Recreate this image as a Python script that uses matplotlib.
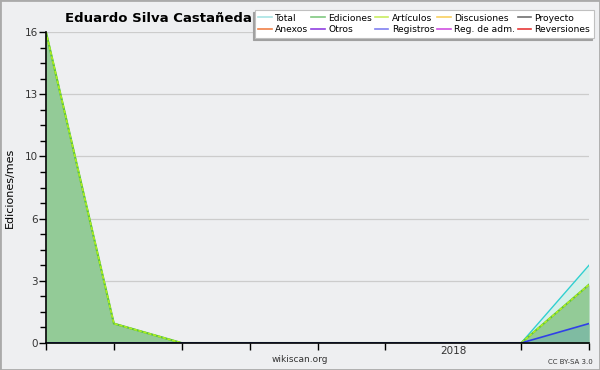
import matplotlib
matplotlib.use("Agg")
import matplotlib.pyplot as plt
from matplotlib.lines import Line2D
from matplotlib.ticker import AutoMinorLocator, FixedLocator

# monthly points, last column is the most recent month
months = [0, 1, 2, 3, 4, 5, 6, 7, 8]
total = [16, 1, 0, 0, 0, 0, 0, 0, 4]
ediciones = [16, 1, 0, 0, 0, 0, 0, 0, 3]
articulos = [16, 1, 0, 0, 0, 0, 0, 0, 3]
registros = [0, 0, 0, 0, 0, 0, 0, 0, 1]
year_pos = [6]
year_labels = ["2018"]
y_ticks = [0, 3.2, 6.4, 9.6, 12.8, 16]
y_labels = ["0", "3", "6", "10", "13", "16"]

legend_names = ["Total", "Ediciones", "Artículos", "Discusiones", "Proyecto",
                "Anexos", "Otros", "Registros", "Reg. de adm.", "Reversiones"]
legend_colors = ["#a8e4e4", "#80c880", "#c8ec60", "#f8d060", "#707070",
                 "#f08048", "#9040e0", "#8080f0", "#d050e0", "#e83838"]

bg = "#eeeff1"
fig = plt.figure(figsize=(6, 3.7), dpi=100, facecolor=bg)
ax = fig.add_axes([46 / 600, 27 / 370, 543 / 600, 311 / 370], facecolor=bg)

# filled areas
ax.fill_between(months, total, color="#d6efe8", lw=0)
ax.fill_between(months, ediciones, color="#93cb97", lw=0)
ax.fill_between(months, registros, color="#7fbba2", lw=0)

ax.plot(months, total, color="#30d0d0", lw=1)
ax.plot(months, ediciones, color="#60c040", lw=1.5)
ax.plot(months, articulos, color="#b0f020", lw=1.2, ls=(0, (2, 1)))
ax.plot(months, registros, color="#3040e8", lw=1.2)

ax.set_xlim(0, 8)
ax.set_ylim(0, 16)
ax.yaxis.set_major_locator(FixedLocator(y_ticks))
ax.set_yticklabels(y_labels)
ax.yaxis.set_minor_locator(AutoMinorLocator(4))
ax.set_xticks(year_pos)
ax.set_xticklabels(year_labels)
ax.xaxis.set_minor_locator(FixedLocator([m for m in months if m not in year_pos]))
ax.tick_params(axis="x", which="major", length=0, pad=2, labelsize=7.5, colors="#333333")
ax.tick_params(axis="x", which="minor", length=5, width=1, color="black")
ax.tick_params(axis="y", which="major", length=5, width=1, pad=1, labelsize=7.5,
               colors="#333333")
ax.tick_params(axis="y", which="minor", length=4, width=1)
ax.tick_params(axis="y", which="both", color="black")
ax.grid(axis="y", color="#cccccc", lw=0.9)
ax.set_axisbelow(True)
for s in ["top", "right"]:
    ax.spines[s].set_visible(False)
for s in ["left", "bottom"]:
    ax.spines[s].set_linewidth(1.2)
    ax.spines[s].set_zorder(5)

ax.set_ylabel("Ediciones/mes", fontsize=8)
ax.yaxis.set_label_coords(-0.058, 0.5)

fig.text(158 / 600, 1 - 18 / 370, "Eduardo Silva Castañeda", ha="center", va="center",
         fontsize=9.5, fontweight="bold")
fig.text(300 / 600, 1 - 360 / 370, "wikiscan.org", ha="center", va="center",
         fontsize=6.5, color="#333333")
fig.text(570 / 600, 1 - 362 / 370, "CC BY-SA 3.0", ha="center", va="center",
         fontsize=5, color="#333333")

# legend, filled column by column so rows read left to right
order = [0, 5, 1, 6, 2, 7, 3, 8, 4, 9]
handles = [Line2D([], [], color=legend_colors[i], lw=1.2) for i in order]
labels = [legend_names[i] for i in order]
leg = fig.legend(handles, labels, ncol=5, loc="upper right",
                 bbox_to_anchor=(594 / 600, 1 - 10 / 370), fontsize=6.6,
                 handlelength=1.5, handletextpad=0.35, columnspacing=0.3,
                 labelspacing=0.25, borderpad=0.4, borderaxespad=0,
                 frameon=True, fancybox=False,
                 shadow={"ox": -1.6, "oy": -1.6, "color": "#a0a0a0", "alpha": 1})
leg.get_frame().set_edgecolor("#c0c0c0")
leg.get_frame().set_linewidth(0.8)
leg.get_frame().set_facecolor("white")

# outer frame of the image
fig.patches.append(plt.Rectangle((0, 0), 1, 1, transform=fig.transFigure, fill=False,
                                 edgecolor="#aaaaaa", lw=2))

fig.savefig("out.png", dpi=100, facecolor=bg)
